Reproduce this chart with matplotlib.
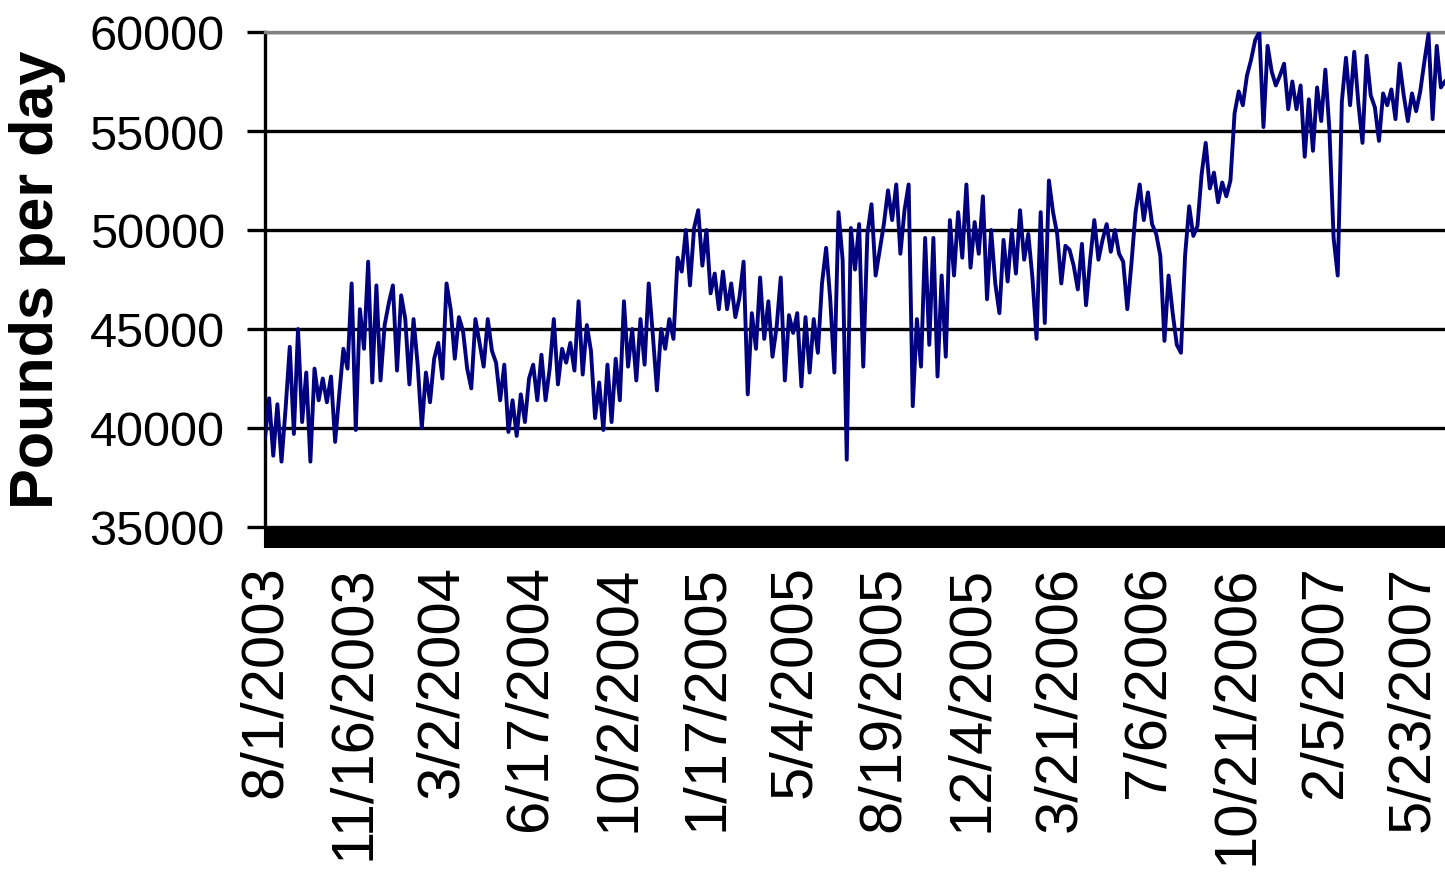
import pandas as pd
import numpy as np
import matplotlib
matplotlib.use("Agg")
import matplotlib.pyplot as plt
import matplotlib.dates as mdates

plt.rcParams["font.family"] = ["Liberation Sans", "DejaVu Sans"]

start_date = "2003-08-01"
step = "5D"
pounds = [
    # Aug 2003 - Mar 2004
    39500, 41500, 38600, 41200, 38300, 41000, 44100, 39700, 45000, 40300,
    42800, 38300, 43000, 41400, 42500, 41300, 42600, 39300, 41700, 44000,
    43000, 47300, 39900, 46000, 44000, 48400, 42300, 47200, 42400, 45200,
    46300, 47200, 42900, 46700, 45500, 42200, 45500, 43200, 40000, 42800,
    41300, 43500, 44300, 42500, 47300, 46000, 43500, 45600, 44900,
    # Apr 2004 - Dec 2004
    43000, 42000, 45500, 44300, 43100, 45500, 43900, 43300, 41400, 43200,
    39800, 41400, 39600, 41700, 40300, 42500, 43200, 41400, 43700, 41400,
    43000, 45500, 42200, 44000, 43300, 44300, 42900, 46400, 42700, 45200,
    43900, 40500, 42300, 39900, 43200, 40300, 43500, 41400, 46400, 43100,
    45000, 42400, 45500, 43200, 47300, 44700, 41900, 45000, 44000,
    # Dec 2004 - Aug 2005
    45500, 44500, 48600, 47900, 50000, 47200, 50100, 51000, 48200, 50000,
    46800, 47800, 46000, 47900, 46000, 47300, 45600, 46600, 48400, 41700,
    45800, 44000, 47600, 44500, 46400, 43600, 45100, 47600, 42400, 45700,
    44800, 45800, 42100, 45600, 42800, 45500, 43800, 47300, 49100, 46500,
    42800, 50900, 48500, 38400, 50100, 48000, 50300, 43100,
    # Aug 2005 - Apr 2006
    49800, 51300, 47700, 49000, 50300, 52000, 50500, 52300, 48800, 51000,
    52300, 41100, 45500, 43100, 49600, 44200, 49600, 42600, 47700, 43600,
    50500, 47700, 50900, 48600, 52300, 48100, 50400, 48800, 51700, 46500,
    50000, 47300, 45800, 49500, 47400, 50000, 47800, 51000, 48500, 49800,
    47600, 44500, 50900, 45300, 52500, 50900, 49800, 47300, 49200,
    # Apr 2006 - Dec 2006
    49000, 48200, 47000, 49300, 46200, 48500, 50500, 48500, 49500, 50300,
    48900, 50000, 48800, 48400, 46000, 48300, 50900, 52300, 50500, 51900,
    50300, 49800, 48700, 44400, 47700, 45800, 44200, 43800, 48700, 51200,
    49700, 50200, 52800, 54400, 52100, 52900, 51400, 52400, 51700, 52500,
    55900, 57000, 56300, 57800, 58600, 59600, 60000, 55200, 59300,
    # Dec 2006 - Jun 2007
    58000, 57300, 57800, 58400, 56100, 57500, 56100, 57300, 53700, 56600,
    54000, 57200, 55500, 58100, 55000, 49600, 47700, 56500, 58700, 56300,
    59000, 56400, 54400, 58800, 56800, 56200, 54500, 56900, 56300, 57100,
    55600, 58400, 56800, 55500, 56900, 56000, 57000, 58500, 59900, 55600,
    59300, 57200, 57500,
]
dates = pd.date_range(start_date, periods=len(pounds), freq=step)

# Category axis labels every 107 days
tick_dates = pd.date_range(start_date, periods=14, freq="107D")
tick_labels = [f"{d.month}/{d.day}/{d.year}" for d in tick_dates]

fig = plt.figure(figsize=(14.45, 8.78), dpi=100)
ax = fig.add_axes([265 / 1445, 1 - 528 / 878, 1180 / 1445, 495 / 878])

ax.plot(dates, pounds, color="#000080", lw=2.8, zorder=3)

ax.set_ylim(35000, 60000)
ax.set_yticks(np.arange(35000, 60001, 5000))
ax.set_xlim(dates[0], dates[-1])

ax.set_xticks(tick_dates)
ax.set_xticklabels(tick_labels, rotation=90, fontsize=43, va="top", ha="center")
# dense daily tick marks make the solid black band under the plot
ax.xaxis.set_minor_locator(mdates.DayLocator(interval=2))
ax.tick_params(axis="x", which="both", direction="out", length=15, width=1.5, color="black")
ax.tick_params(axis="x", which="major", pad=12)
ax.tick_params(axis="y", direction="out", length=13, width=2.4, pad=16, labelsize=35)

ax.set_axisbelow(True)
ax.yaxis.grid(True, color="black", lw=2.4)
ax.spines["left"].set_linewidth(2.4)
ax.spines["left"].set_color("black")
ax.spines["top"].set_linewidth(2.4)
ax.spines["top"].set_color("#808080")
ax.spines["right"].set_visible(False)
ax.spines["bottom"].set_visible(False)

fig.text(38 / 1445, 1 - 280 / 878, "Pounds per day", rotation=90, fontsize=44,
         fontweight="bold", ha="center", va="center")

fig.savefig("out.png", dpi=100)
